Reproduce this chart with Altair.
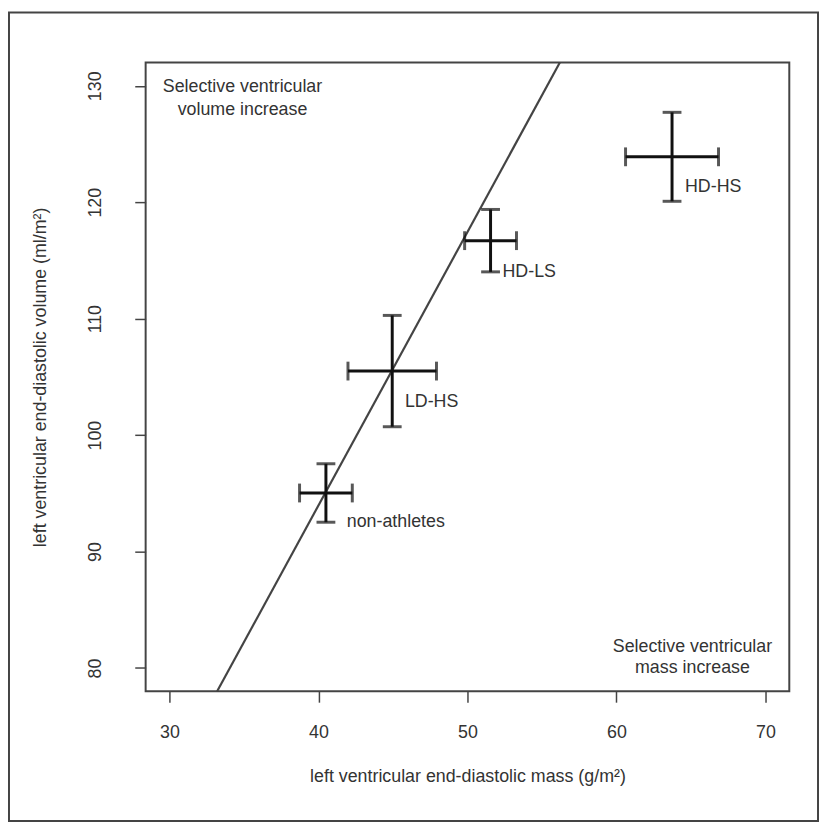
import altair as alt
import pandas as pd

FONT = "'Liberation Sans', Arial, sans-serif"
FS = 18

# ---- data ----
groups = ["non-athletes", "LD-HS", "HD-LS", "HD-HS"]
mass_mean = [40.5, 44.95, 51.55, 63.73]      # g/m2
mass_err = [1.77, 2.97, 1.74, 3.12]
vol_mean = [95.03, 105.5, 116.7, 123.9]      # ml/m2
vol_err = [2.51, 4.78, 2.68, 3.82]
label_x = [41.9, 45.8, 52.35, 64.6]
label_y = [92.1, 102.4, 113.6, 120.9]

line_x = [33.2, 56.2]
line_y = [78.0, 132.0]

corner_text = ["Selective ventricular", "volume increase",
               "Selective ventricular", "mass increase"]
corner_x = [34.9, 34.9, 65.1, 65.1]
corner_y = [129.45, 127.5, 81.35, 79.6]

x_ticks = [30, 40, 50, 60, 70]
y_ticks = [80, 90, 100, 110, 120, 130]
x_domain = [28.4, 71.6]
y_domain = [78, 132]

x_title = "left ventricular end-diastolic mass (g/m²)"
y_title = "left ventricular end-diastolic volume (ml/m²)"

# ---- tables ----
df = pd.DataFrame({
    "group": groups,
    "x": mass_mean,
    "y": vol_mean,
    "xlo": [m - e for m, e in zip(mass_mean, mass_err)],
    "xhi": [m + e for m, e in zip(mass_mean, mass_err)],
    "ylo": [m - e for m, e in zip(vol_mean, vol_err)],
    "yhi": [m + e for m, e in zip(vol_mean, vol_err)],
    "lx": label_x,
    "ly": label_y,
})
line_df = pd.DataFrame({"x": line_x, "y": line_y})
corner_df = pd.DataFrame({"text": corner_text, "x": corner_x, "y": corner_y})

W, H = 650, 635

xs = alt.Scale(domain=x_domain, nice=False, zero=False)
ys = alt.Scale(domain=y_domain, nice=False, zero=False)

x_axis = alt.Axis(values=x_ticks, labelPadding=22, titleY=91,
                  titleBaseline="alphabetic")
y_axis = alt.Axis(values=y_ticks, labelAngle=270, labelAlign="center",
                  labelBaseline="alphabetic", labelPadding=35,
                  titleX=-106, titleY=H / 2, titleBaseline="middle",
                  titleAngle=270)


def X(field):
    return alt.X(field, type="quantitative", scale=xs, axis=x_axis, title=x_title)


def Y(field):
    return alt.Y(field, type="quantitative", scale=ys, axis=y_axis, title=y_title)


BAR = "#111111"

diag = alt.Chart(line_df).mark_line(color="#444444", strokeWidth=2.2).encode(
    x=X("x"), y=Y("y"))

hbar = alt.Chart(df).mark_rule(color=BAR, strokeWidth=3).encode(
    x=X("xlo"), x2="xhi", y=Y("y"))
vbar = alt.Chart(df).mark_rule(color=BAR, strokeWidth=3).encode(
    x=X("x"), y=Y("ylo"), y2="yhi")

cap_l = alt.Chart(df).mark_tick(orient="vertical", color=BAR, size=19, thickness=3).encode(
    x=X("xlo"), y=Y("y"))
cap_r = alt.Chart(df).mark_tick(orient="vertical", color=BAR, size=19, thickness=3).encode(
    x=X("xhi"), y=Y("y"))
cap_b = alt.Chart(df).mark_tick(orient="horizontal", color=BAR, size=19, thickness=3).encode(
    x=X("x"), y=Y("ylo"))
cap_t = alt.Chart(df).mark_tick(orient="horizontal", color=BAR, size=19, thickness=3).encode(
    x=X("x"), y=Y("yhi"))

labels = alt.Chart(df).mark_text(align="left", baseline="alphabetic", font=FONT,
                                 fontSize=FS, color="#333333").encode(
    x=X("lx"), y=Y("ly"), text="group:N")

corners = alt.Chart(corner_df).mark_text(align="center", baseline="alphabetic", font=FONT,
                                         fontSize=FS, color="#333333").encode(
    x=X("x"), y=Y("y"), text="text:N")

frame = alt.Chart(pd.DataFrame({"a": [0]})).mark_rect(
    fillOpacity=0, stroke="#444444", strokeWidth=2).encode(
    x=alt.value(-138), x2=alt.value(679), y=alt.value(-50.5), y2=alt.value(766))

chart = alt.layer(frame, diag, hbar, vbar, cap_l, cap_r, cap_b, cap_t, labels, corners).properties(
    width=W, height=H,
    autosize=alt.AutoSizeParams(type="none"),
    padding={"left": 139, "top": 51, "right": 30, "bottom": 132},
).configure_view(
    stroke="#444444", strokeWidth=2
).configure_axis(
    domain=False, grid=False, ticks=True, tickColor="#444444", tickWidth=1.5,
    tickSize=11, labelFont=FONT, labelFontSize=FS, labelColor="#333333",
    titleFont=FONT, titleFontSize=FS, titleFontWeight="normal", titleColor="#333333",
)

chart.save("out.html", embed_options={"renderer": "svg", "actions": False})
